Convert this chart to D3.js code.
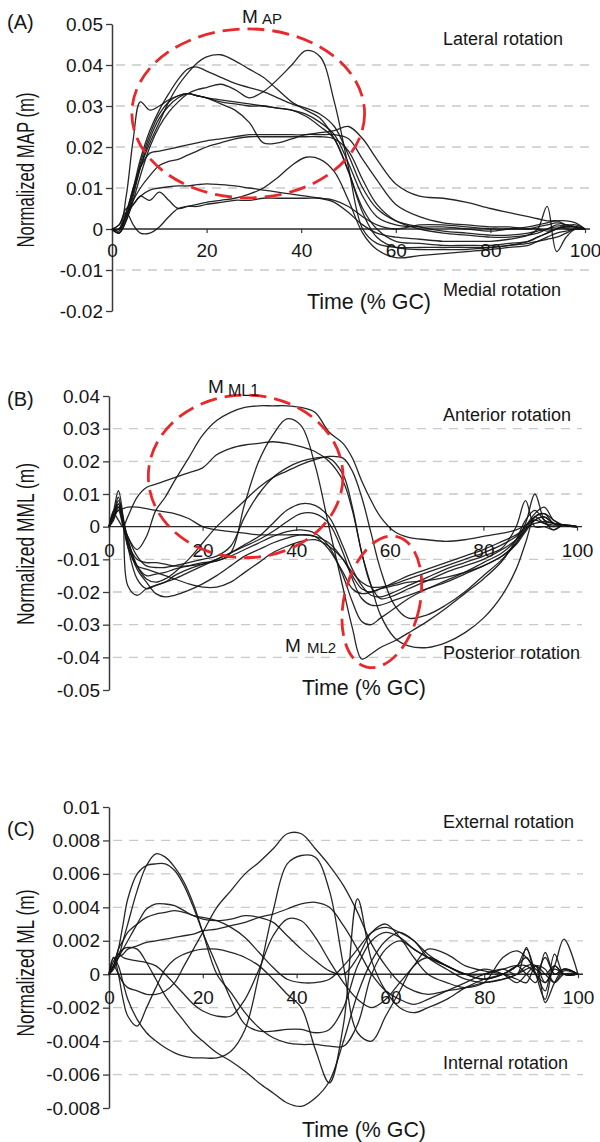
<!DOCTYPE html>
<html>
<head>
<script src="https://cdn.jsdelivr.net/npm/d3@7/dist/d3.min.js"></script>
<style>
  body { margin: 0; background: #fff; }
  svg text { font-family: "Liberation Sans", Arial, sans-serif; fill: #161616; }
</style>
</head>
<body>
<script>
var xTicks = [0, 20, 40, 60, 80, 100];

// (A) normalized MAP, values in 0.001 m
var timeA = [0,1.5,3,4.5,6,8,10,12,14,16,18,20,23,26,29,32,35,38,41,44,47,50,53,56,60,65,70,75,80,84,88,90,92,94,96,98,100];
var mapTicks = [-20, -10, 0, 10, 20, 30, 40, 50];
var mapSeries = [
  [0,-1,2,7,13, 20,25,28.5,31,33, 34,34.5,35.3,34,32, 33.5,36.5,40,43.5,42, 31,15,0,-3.5,-4.5, -4.5,-4.5,-4.5,-4.5,-4, -3.5,-3,-2.5,-2,-1, 0,0],
  [0,0,3,9,15, 21,26,31,35,38, 40.5,42,42.5,41,39, 37,34,31,29,27, 22,14,5,0,-3, -3.5,-4,-4,-4,-3.5, -3,-2,-1,0,0.5, 0.5,0],
  [0,-0.5,4,10,17, 24,29,33,36.5,39, 39.5,38.5,37,35.5,34.5, 33.5,32,30.5,29.5,28, 25,18,10,5,2, 0.5,-0.5,-1,-1.5,-1.5, -1,-0.5,0,1,0.5, 0.5,0],
  [0,0,8,22,31, 29,30,31.5,32.5,33, 32.5,32,31,30.5,30, 30,29.5,29,28,26, 23,16,8,3,1, 0.5,0.5,0,-0.5,0, 0.5,1,1.5,2,1, 1,0],
  [0,-1,2,8,15, 22,27,30,32,33, 32.5,32,30.5,29,26, 21,21,22,23,23, 23,22,17,12,6, 3,1.5,1,0.5,0.5, 0,0,-0.5,0,0.5, 0.5,0],
  [0,0,4,10,15, 18.5,19,19.5,20,20.5, 21,21.5,22,22.5,23, 23,23,23,23,23.5, 24,25,22,17,11, 8,7.5,6.5,5,4, 3,2.5,2,2,2, 1.5,0],
  [0,0,3,7,10, 13,15.5,16.5,17,18, 19,20,21,22,22.5, 22.5,22.5,22.5,22.5,22.5, 22,19,12,6,2, 0,-1,-1.5,-2,-2, -1.5,-1,0,0.5,0, 0,0],
  [0,0,3,6,8, 9.5,10,10.3,10.5,10.5, 10.8,11,10.8,10.5,10, 9.5,9,8.5,8,7.5, 6.5,4,1,-1,-2, -2.5,-3,-3,-3,-2.5, -1.5,0,5.5,-5.5,-2, 0,0],
  [0,1,5,6,8, 7,9,7,5,5.5, 5.5,6,6.5,7,7, 7.5,7.5,7.5,7.5,7.5, 7,5.5,3,1,0, 1,1,0.5,0,0, 0,0.5,1,1.5,1, 0.5,0],
  [0,1,4,1,-1, -1,0.5,3,5,5.5, 6,6.5,7,7.5,8.5, 10,12.5,15.5,17.5,17, 14,7,-1,-5,-7, -6.5,-6,-5.5,-5,-4.5, -4,-3,-2,-1,-0.5, 0,0],
  [0,-1,3,9,16, 23,28,31,32.5,33, 32.5,32,31.5,31,30.5, 30,29.5,29,27.5,25, 22,14,4,-2,-4.5, -5,-5,-5,-4.5,-4, -3,-2,-1,0,1, 0.5,0]
];

// (B) normalized MML, values in 0.001 m
var timeB = [0,1,2,3,4,6,8,10,12,14,17,20,23,26,29,32,35,38,41,44,47,50,52,54,56,58,61,64,68,72,76,80,84,87,89,91,93,95,97,100];
var mmlTicks = [-50, -40, -30, -20, -10, 0, 10, 20, 30, 40];
var mmlSeries = [
  [0,2,6,2,-3, -7,-3,5,9,14, 21,28,32.5,35,36.5, 37,37,37,36.5,35, 29,25.5,21,14,8, 3,-1.5,-3.3,-4,-4.5, -4,-3,-2,-1,0.5, 2,1,0.5,0.5,0],
  [0,3,8,3,-4, -12,-15,-14.5,-14,-13, -12,-11,-10.5,-8,7, 20,28,33,31,19, 0,-18.7,-31,-40.5,-39, -37,-35,-32.5,-29,-25, -20.5,-16,-10.5,-4,2, 5,2,1,0.5,0],
  [0,4,2,0,3, 9,12,13,14,15, 16.5,18,22,24,25, 25.5,26,25.5,24.5,23, 20,14,5,-8,-18, -27,-34,-36.5,-37,-35.5, -32.5,-28,-21,-13,-5, 3,4,1,0.5,0],
  [0,5,6,1,-3, -9,-12,-12.5,-12.5,-12, -11,-10,-9,-6,3, 10,15,18,20,21, 21,16,6,-8,-18, -22,-21,-19,-16.5,-14, -12,-10,-7,-4,-1, 2,3,1,0.5,0],
  [0,3,5,0,-4, -12,-16,-17,-16,-14, -10,-5,0,4,8, 12,15,17,19,20.5, 21.5,21,17,9,-2, -13,-24,-28,-27,-24, -20,-15,-10,-5,0, 4,6,2,0.5,0],
  [0,3,5,5.5,6, 6,5.5,5,4.5,4, 2.5,0,-1,-1.5,-2, -2.5,-2.5,-2.5,-2.5,-3, -5,-10,-15,-19,-20, -19,-17,-15,-13,-11, -9,-7,-4.5,-2.5,-0.5, 1,1.5,1,0.5,0],
  [0,4,9,2,-6, -16,-19,-18,-17,-16, -14,-12,-10,-8,-5.5, -3,1,5,7,6.5, 3,-6,-13,-18,-21, -21.5,-20,-18,-15.5,-13, -11,-9,-6.5,0,8, 0,0,-1,0.5,0],
  [0,5,11,3,-18, -21,-19,-18,-17,-15, -13,-11.5,-10,-8,-6, -4,-1.5,1.5,4,4, 1,-8,-16,-22,-24, -24,-22.5,-21,-19,-17, -14.5,-12,-9,-5,-1, 3,1,0,0.5,0],
  [0,3,7,2,-5, -13,-17,-20.5,-21.5,-21, -19.5,-17.5,-15,-12,-9, -7,-5,-3.5,-2.5,-3, -7,-14,-19,-20.5,-20, -19,-18,-17,-16.5,-15.5, -14,-12,-9,-5.5,-1.5, 2,3,1,0.5,0],
  [0,4,7,1,-6, -12,-13,-14,-15,-16, -17.5,-18.5,-18.5,-17,-14, -11,-8,-6,-4.5,-4, -6,-10,-14,-17,-18.5, -18.5,-17.5,-16,-14,-12, -10,-8,-5.5,-3,0, 3,4,2,0.5,0],
  [0,3,6,1,-5, -10,-11,-11,-11.5,-12, -12,-11.5,-10.5,-9,-7, -5,-3,-1.5,-1,-2, -6,-15,-23,-29,-30, -28,-25,-22,-19,-16.5, -14,-11,-8,-4,1, 10,2,-1,0.5,0]
];

// (C) normalized ML, values in 0.001 m
var timeC = [0,1,2,3,4,6,8,10,12,14,16,18,20,23,26,29,32,35,38,41,44,47,50,53,56,59,62,65,68,72,76,80,84,87,89,91,93,95,97,100];
var mlTicks = [-8, -6, -4, -2, 0, 2, 4, 6, 8, 10];
var mlSeries = [
  [0,0.5,1,2,3, 5,6.5,7.2,7,6.4, 5.5,4.2,2.5,0,-1.1, -2.3,-3.2,-3.8,-4.1,-4.2, -4.2,-4.3,-4.3,-3,0, 1.5,2,1.5,1,0.5, 0,0,0.3,0.5,0, -0.5,1.3,0,0.3,0],
  [0,0.5,1.5,3,4.5, 6,6.5,6.6,6.6,6.2, 5.3,4,2.5,0.5,-1.5, -3,-3.4,-3.4,-3.3,-3.3, -3.5,-3.3,-2,0.5,2, 2.5,2.2,1.5,1,0.5, 0,-0.3,0,0.5,0.5, 0,-1,1.2,0,0],
  [0,0.5,0,-0.5,-0.8, -1,-1.2,-1.2,-1,-0.5, 0.5,1.5,2.5,4,5, 6,6.7,7.5,8.4,8.4, 7.5,6.5,5.3,3.7,1.8, 0.5,-0.5,-1,-1.2,-1, -0.8,-0.5,-0.3,0,0.3, 0.5,0,-0.5,0,0],
  [0,1,0.5,-0.5,-1.5, -2.7,-3.5,-4,-4.4,-4.7, -4.9,-5,-5,-5,-4.6, -3.3,0,3.8,6.6,7.1, 7,5,0.5,-3.5,-4, -2.5,-1,0.5,1,0.5, 0,0.3,0,-0.5,0, 0.5,-0.5,0.3,0,0],
  [0,0.5,1.2,1.5,1.6, 1.5,0.7,-0.3,-1.3,-2.1, -2.8,-3.5,-4,-4.7,-5.2, -5.8,-6.5,-7.1,-7.7,-7.9, -7.4,-6.4,-4,-1.2,0.8, 2,2.5,2,1,0.3, -0.3,-0.5,-0.3,0,0.5, 0.5,-1.7,-0.5,0.3,0],
  [0,0.3,1,1.5,2, 3,3.9,4.2,4.2,4.1, 3.8,3.5,3.4,3.2,2.8, 2.2,1.3,0.4,-0.3,-0.5, -0.5,-0.3,0.5,1.5,2.5, 2.8,2.5,2,1.2,0.5, 0,-0.3,0,0.5,1, 0,-0.5,0.5,2.1,0],
  [0,0.5,1.5,2,2.5, 3,3.4,3.6,3.7,3.8, 3.7,3.5,3.3,3.2,3.3, 3.5,3.4,3.1,2.3,1.5, 0.8,0.2,0,1,2.5, 3,2.2,1,0,-0.5, -0.8,-0.5,1,1.4,1, 0.3,0,0.5,0,0],
  [0,0.5,1,1.2,1.5, 1.7,1.9,2,2.1,2.2, 2.3,2.4,2.6,2.7,2.9, 3.1,3.4,3.6,3.9,4.2, 4.3,4,2.9,1.5,0, -1,-1.5,-1.8,-1.5,-1, -0.5,0,0.3,0,1.6, 0,1,0,0.3,0],
  [0,1,0,-1.5,-2.5, -3.1,-2,-0.8,0.3,0.9, 1.2,1.4,1.5,1.5,1.3, 1,0.5,-0.3,-1.2,-2, -4.5,-6.5,-3,4.5,0.8, -1,-2,-2.3,-2,-1.5, -0.8,-0.3,0,0.5,1.5, 0,-1.5,0.5,0,0],
  [0,0.8,1.2,1,0.9, 0.8,0.7,0.5,0,-0.6, -1.2,-1.8,-2.2,-2.5,-2.5, -1.5,0.3,2.3,3.3,3.2, 2.2,0.8,-0.5,-1.5,-2, -1.5,-0.5,0.5,1.5,1.2, 0.5,0.2,0,-0.3,-0.5, 0.5,0.3,-0.5,0.2,0]
];

var W = 600, H = 1142;
var svg = d3.select("body").append("svg").attr("width", W).attr("height", H);

var red = "#e8282b";

var panels = [
  { t: timeA, series: mapSeries, yTicks: mapTicks, xr: [112, 585], yr: [311, 24], lblOff: 14.5,
    tag: "(A)", tagY: 29, ylab: "Normalized MAP (m)", ylabY: 170, ylabLen: 155,
    timeX: 307, timeY: 309, top: "Lateral rotation", topY: 45, bot: "Medial rotation", botY: 296,
    ellipses: [{ t: 28.8, v: 28.2, rt: 24.6, rv: 20.6, rot: 0 }],
    marks: [{ m: "M", s: "AP", x: 242, y: 23, sx: 262, sy: 24, sf: 15 }] },
  { t: timeB, series: mmlSeries, yTicks: mmlTicks, xr: [109, 577], yr: [690, 396], lblOff: 16.5,
    tag: "(B)", tagY: 406, ylab: "Normalized MML (m)", ylabY: 544, ylabLen: 162,
    timeX: 302, timeY: 695, top: "Anterior rotation", topY: 421, bot: "Posterior rotation", botY: 659,
    ellipses: [{ t: 29.2, v: 15.4, rt: 20.8, rv: 24.9, rot: 0 },
               { t: 58.3, v: -23, rt: 8.1, rv: 20.5, rot: 13 }],
    marks: [{ m: "M", s: "ML1", x: 208, y: 393, sx: 228, sy: 396, sf: 16 },
            { m: "M", s: "ML2", x: 285, y: 652, sx: 307, sy: 653, sf: 15 }] },
  { t: timeC, series: mlSeries, yTicks: mlTicks, xr: [109, 578], yr: [1108, 807], lblOff: 16.5,
    tag: "(C)", tagY: 836, ylab: "Normalized ML (m)", ylabY: 963, ylabLen: 147,
    timeX: 302, timeY: 1137, top: "External rotation", topY: 828, bot: "Internal rotation", botY: 1069,
    ellipses: [], marks: [] }
];

function fmtY(v) { return String(+(v / 1000).toFixed(3)); }

panels.forEach(function(p) {
  var x = d3.scaleLinear().domain([0, 100]).range(p.xr);
  var y = d3.scaleLinear().domain([p.yTicks[0], p.yTicks[p.yTicks.length - 1]]).range(p.yr);
  var g = svg.append("g");
  var xEnd = p.xr[1] + 5;

  // dashed grid
  g.selectAll(".grid")
    .data(p.yTicks.slice(1, -1).filter(function(d) { return d !== 0; }))
    .enter().append("line")
    .attr("x1", p.xr[0] + 4).attr("x2", xEnd)
    .attr("y1", function(d) { return y(d); }).attr("y2", function(d) { return y(d); })
    .attr("stroke", "#c9c9c9").attr("stroke-width", 1.3).attr("stroke-dasharray", "9,7");

  // y axis
  var ya = g.append("g").attr("transform", "translate(" + p.xr[0] + ",0)")
    .call(d3.axisLeft(y).tickValues(p.yTicks).tickSize(6).tickSizeOuter(0).tickPadding(3).tickFormat(fmtY));
  ya.select(".domain").attr("stroke", "#3a3a3a").attr("stroke-width", 1.5);
  ya.selectAll(".tick line").attr("stroke", "#3a3a3a").attr("stroke-width", 1.3);
  ya.selectAll("text").attr("font-size", 19).attr("font-family", "Liberation Sans, Arial, sans-serif").attr("fill", "#161616");

  // zero line with time ticks
  var xa = g.append("g").attr("transform", "translate(0," + y(0) + ")")
    .call(d3.axisBottom(x).tickValues(xTicks).tickSize(4).tickSizeOuter(0).tickPadding(p.lblOff - 4).tickFormat(d3.format("d")));
  xa.select(".domain").remove();
  xa.selectAll(".tick line").attr("stroke", "#3a3a3a").attr("stroke-width", 1.2);
  xa.selectAll("text").attr("font-size", 19).attr("font-family", "Liberation Sans, Arial, sans-serif").attr("fill", "#161616");
  g.append("line").attr("x1", p.xr[0]).attr("x2", xEnd).attr("y1", y(0)).attr("y2", y(0))
    .attr("stroke", "#2a2a2a").attr("stroke-width", 1.4);

  // subject curves
  var line = d3.line()
    .x(function(d, i) { return x(p.t[i]); })
    .y(function(d) { return y(d); })
    .curve(d3.curveCatmullRom.alpha(0.5));
  g.selectAll(".curve").data(p.series).enter().append("path")
    .attr("d", line).attr("fill", "none")
    .attr("stroke", "#151515").attr("stroke-width", 1.3).attr("stroke-opacity", 0.92);

  // dashed ellipses
  p.ellipses.forEach(function(e) {
    var cx = x(e.t), cy = y(e.v);
    g.append("ellipse").attr("cx", cx).attr("cy", cy)
      .attr("rx", x(e.t + e.rt) - cx).attr("ry", cy - y(e.v + e.rv))
      .attr("transform", "rotate(" + e.rot + "," + cx + "," + cy + ")")
      .attr("fill", "none").attr("stroke", red).attr("stroke-width", 2.8)
      .attr("stroke-dasharray", "17,8");
  });

  // labels
  g.append("text").attr("x", 7).attr("y", p.tagY).attr("font-size", 20).text(p.tag);
  g.append("text").attr("text-anchor", "middle")
    .attr("transform", "translate(34," + p.ylabY + ") rotate(-90)")
    .attr("font-size", 23).attr("textLength", p.ylabLen).attr("lengthAdjust", "spacingAndGlyphs")
    .text(p.ylab);
  g.append("text").attr("x", p.timeX).attr("y", p.timeY).attr("font-size", 22)
    .attr("textLength", 124).attr("lengthAdjust", "spacingAndGlyphs").text("Time (% GC)");
  g.append("text").attr("x", 443).attr("y", p.topY).attr("font-size", 18).text(p.top);
  g.append("text").attr("x", 443).attr("y", p.botY).attr("font-size", 18).text(p.bot);
  p.marks.forEach(function(m) {
    g.append("text").attr("x", m.x).attr("y", m.y).attr("font-size", 19).text(m.m);
    g.append("text").attr("x", m.sx).attr("y", m.sy).attr("font-size", m.sf).text(m.s);
  });
});
</script>
</body>
</html>
